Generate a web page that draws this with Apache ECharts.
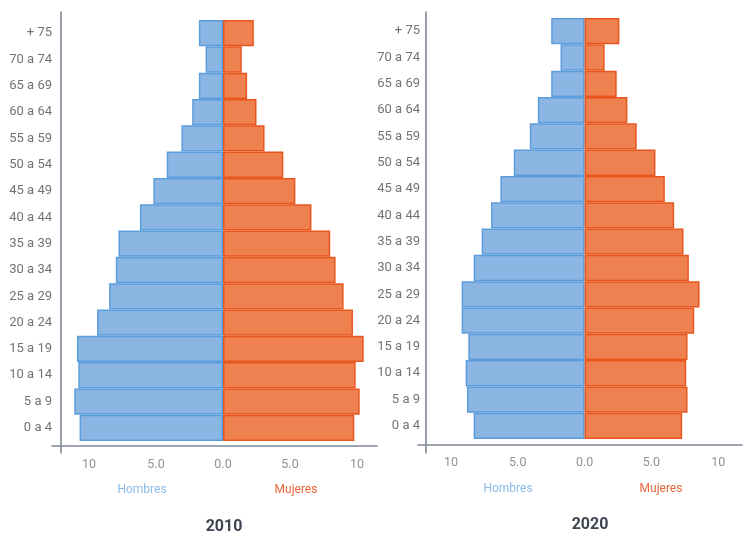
<!DOCTYPE html>
<html>
<head>
<meta charset="utf-8">
<script src="https://cdn.jsdelivr.net/npm/echarts@6/dist/echarts.min.js"></script>
<style>
html,body{margin:0;padding:0;background:#fff;}
#chart{width:748px;height:534px;}
</style>
</head>
<body>
<div id="chart"></div>
<script>
// ---- data ----
const categories = ['0 a 4','5 a 9','10 a 14','15 a 19','20 a 24','25 a 29','30 a 34','35 a 39','40 a 44','45 a 49','50 a 54','55 a 59','60 a 64','65 a 69','70 a 74','+ 75'];
const hombres2010 = [10.7, 11.1, 10.8, 10.9, 9.4, 8.5, 8.0, 7.8, 6.2, 5.2, 4.2, 3.1, 2.3, 1.8, 1.3, 1.8];
const mujeres2010 = [9.8, 10.2, 9.9, 10.5, 9.7, 9.0, 8.4, 8.0, 6.6, 5.4, 4.5, 3.1, 2.5, 1.8, 1.4, 2.3];
const hombres2020 = [8.3, 8.8, 8.9, 8.7, 9.2, 9.2, 8.3, 7.7, 7.0, 6.3, 5.3, 4.1, 3.5, 2.5, 1.8, 2.5];
const mujeres2020 = [7.3, 7.7, 7.6, 7.7, 8.2, 8.6, 7.8, 7.4, 6.7, 6.0, 5.3, 3.9, 3.2, 2.4, 1.5, 2.6];
const tickLabels = {'-10':'10','-5':'5.0','0':'0.0','5':'5.0','10':'10'};
const years = ['2010','2020'];
const sexLabels = ['Hombres','Mujeres'];

const BLUE = '#8bb5e3', BLUE_B = '#5c9ddb';
const ORANGE = '#ef8150', ORANGE_B = '#e8561e';
const AXIS = '#7f8796';
const FONT = "Roboto, 'Liberation Sans', sans-serif";

// ---- layout ----
const panels = [
  {zero:223, bar:[20,441], frame:{left:52,right:377,top:12,bottom:453}, yAxisX:61, xAxisY:446, labMargin:9,  labXMargin:17, sexX:[142,296], sexY:484, yearX:224, yearY:519},
  {zero:585, bar:[18,439], frame:{left:418,right:742,top:12,bottom:453}, yAxisX:426, xAxisY:444.5, labMargin:6, labXMargin:17, sexX:[508,661], sexY:483, yearX:590, yearY:517}
];
const PX = 13.4, HALF = 12;

const grid = [], xAxis = [], yAxis = [], series = [], title = [];
const dataSets = [[hombres2010, mujeres2010],[hombres2020, mujeres2020]];

panels.forEach((p, i) => {
  const gl = p.zero - PX*HALF, gr = p.zero + PX*HALF;
  // bar grid
  grid.push({left:gl, width:gr-gl, top:p.bar[0], height:p.bar[1]-p.bar[0], containLabel:false});
  const gA = grid.length-1;
  xAxis.push({
    type:'value', gridIndex:gA, min:-HALF, max:HALF, interval:1,
    axisLine:{show:false}, axisTick:{show:false}, splitLine:{show:false},
    axisLabel:{
      margin:p.labXMargin, color:'#929292', fontSize:12.5, fontFamily:FONT,
      showMinLabel:true, showMaxLabel:true,
      formatter:(v)=> (tickLabels[String(Math.round(v))] !== undefined && Math.abs(v - Math.round(v))<1e-6) ? tickLabels[String(Math.round(v))] : ''
    }
  });
  yAxis.push({
    type:'category', gridIndex:gA, data:categories,
    axisLine:{show:false}, axisTick:{show:false}, splitLine:{show:false},
    axisLabel:{margin: (gl - p.yAxisX) + p.labMargin, color:'#737373', fontSize:13, fontFamily:FONT, interval:0}
  });
  const ax = xAxis.length-1;
  series.push({
    name:sexLabels[0], type:'bar', xAxisIndex:ax, yAxisIndex:ax, stack:'p'+i,
    data:dataSets[i][0].map(v=>-v), barWidth:'100%',
    itemStyle:{color:BLUE, borderColor:BLUE_B, borderWidth:1.5}, silent:true
  });
  series.push({
    name:sexLabels[1], type:'bar', xAxisIndex:ax, yAxisIndex:ax, stack:'p'+i,
    data:dataSets[i][1].slice(), barWidth:'100%',
    itemStyle:{color:ORANGE, borderColor:ORANGE_B, borderWidth:1.5}, silent:true
  });
  // frame grid (axis lines only)
  const f = p.frame;
  grid.push({left:f.left, width:f.right-f.left, top:f.top, height:f.bottom-f.top});
  const gB = grid.length-1;
  xAxis.push({
    type:'value', gridIndex:gB, min:0, max:1, offset:-(f.bottom - p.xAxisY),
    axisLine:{show:true, onZero:false, lineStyle:{color:AXIS, width:1.6}},
    axisTick:{show:false}, axisLabel:{show:false}, splitLine:{show:false}
  });
  yAxis.push({
    type:'value', gridIndex:gB, min:0, max:1, offset:-(p.yAxisX - f.left),
    axisLine:{show:true, onZero:false, lineStyle:{color:AXIS, width:1.6}},
    axisTick:{show:false}, axisLabel:{show:false}, splitLine:{show:false}
  });
  // sex labels & year
  title.push({text:sexLabels[0], left:p.sexX[0], top:p.sexY, textAlign:'center', padding:0,
    textStyle:{color:'#8bbbe8', fontSize:12, fontWeight:'normal', fontFamily:FONT}});
  title.push({text:sexLabels[1], left:p.sexX[1], top:p.sexY, textAlign:'center', padding:0,
    textStyle:{color:'#e8663a', fontSize:12, fontWeight:'normal', fontFamily:FONT}});
  title.push({text:years[i], left:p.yearX, top:p.yearY, textAlign:'center', padding:0,
    textStyle:{color:'#3d4650', fontSize:16, fontWeight:'bold', fontFamily:FONT}});
});

const chart = echarts.init(document.getElementById('chart'), null, {renderer:'canvas'});
chart.setOption({
  animation:false,
  backgroundColor:'#ffffff',
  title, grid, xAxis, yAxis, series
});
</script>
</body>
</html>
